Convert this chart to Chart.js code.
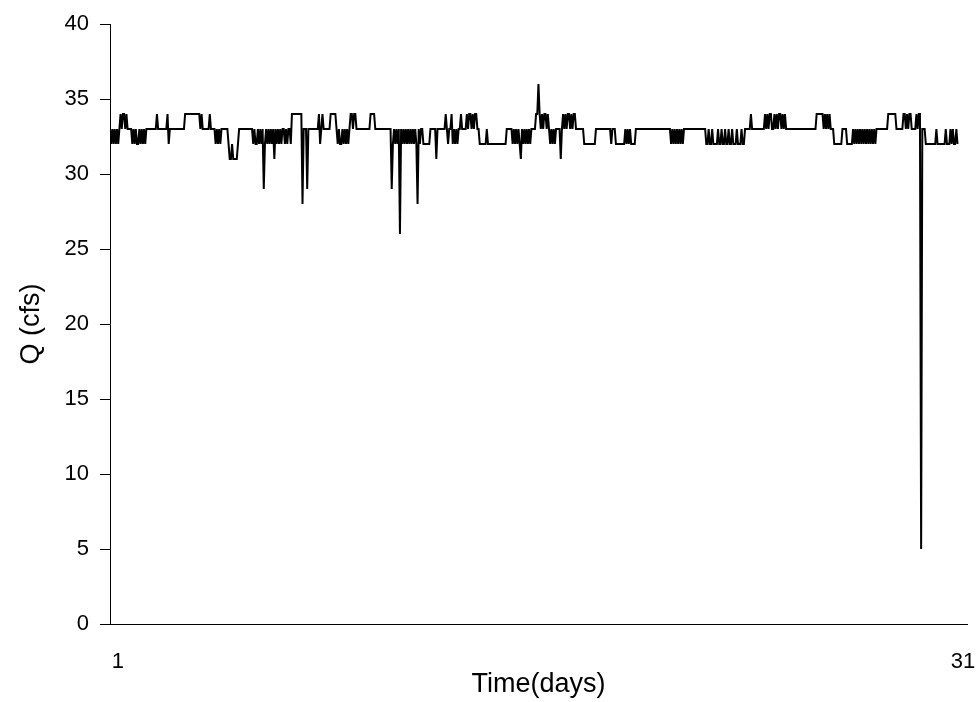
<!DOCTYPE html>
<html lang="en">
<head>
    <meta charset="UTF-8">
    <title>Q (cfs) vs Time</title>
    <script src="https://cdn.jsdelivr.net/npm/chart.js"></script>
    <style>
        body { margin: 0; background: #fff; }
    </style>
</head>
<body>
    <canvas id="flowChart" width="979" height="702"></canvas>
    <script>
        // hourly readings, day of month of first reading
        const startDay = 0.72;
        const flowCfs = [
            33,32,33,32,33,32,33,32,33, 34,33,34,34,33,34, 33,33,33,33, 32,33,32,33,32,32,33,32,33,32,33,32,33,
            33,33,33,33,33,33,33,33, 34, 33,33,33,33,33,33,33,33, 34,32, 33,33,33,33,33,33,33,33,33,33,33,33,33,
            34,34,34,34,34,34,34,34,34,34,34,34,34, 33,34,33, 33,33,33,33,33,34, 33,33,33,33, 32,33,32,33,32, 33,33,33,33,33,33,
            32,31,31,32,31,31,31,31,32, 33,33,33,33,33,33,33,33,33,33,33, 33,32,33,32,32,33,32,33,32,33,
            29,32,33,32,33,32,33,32,33,31, 33,32,33,32,33,32,33,33,32,33, 32,33,
            33,32, 34,34,34,34,34,34,34,34,34, 28, 33,33,33, 29, 33,33,33,33,33,33,33,33,33, 34,32,33,34,33,
            33,33,33,33,33, 34,34,34,34,34, 33,32,33,32,32,33,32,33,32,33,32,33, 34,34,33,34,34,
            33,33,33,33,33,33,33,33,33,33,33,33, 34,34,34,34, 33,33,33,33,33,33,33,33,33,33,33,33,33,33, 29,
            32,33,32,33,32,33, 26, 33,32,33,32,33,32,33,32,33,32,33,32,33,32, 28, 33,32,33,33,
            32,32,32,32,32,32, 33,33,33,33,33, 31, 33,33,33,33,33,33,33, 34, 33,32,33,33, 34, 32,33,32,33,32,33,33,
            34,33, 33,33,33, 34,33,34,34,33,34,33,34,34, 33,33,
            32,32,32,32,32,32, 33, 32,32,32,32,32,32,32,32,32,32,32,32,32,32,32,32, 33,33,33,33,33,
            32,33,32,33,32,33,32,31,33,32,33,32,33,32,33,32,33, 33,33,33, 34,34, 36, 34,33,34,33,34,34,33,34,33,
            32,33,32,33,32,33, 33,33,33, 31, 33,
            34,33,34,33,34,34,33,34,33,34,34, 33,33,33,33,33,33,33, 32,32,32,32,32,32,32,32,32,32,
            33,33,33,33,33,33,33,33,33,33,33,33,33, 32,33,33,33, 32,32,32,32,32,32,32,32, 33,32,33,32,33,32, 32,32,32,
            33,33,33,33,33,33,33,33,33,33,33,33,33,33,33,33,33,33,33,33,33,33,33,33,33,33,33,33,33,33,
            32,33,32,33,32,33,32,33,32,33,32,33, 33,33,33,33,33,33,33,33,33,33,33,33,33,33,33,33,33,33,
            32,32,33,32,32,33,32,32,32,32, 33,32,32,33,32,32,33,32,32,33, 32,32,33,32,32,32,33,32,32,32, 33,32,32,33,33,
            33,33,33,34,33,33, 33,33,33,33,33,33,33,33,33,
            34,33,34,33,34,34,33,33,34,33,34,33,34,34,33,34,33,34,
            33,33,33,33,33,33,33,33,33,33,33,33,33,33,33,33,33,33,33,33,33,33,33,33,33,33,
            34,34,34,34,34, 34,33,34,33,34,33,34,33, 33,33, 32,32,32,32,32,32,32, 33,33,33,33, 32,32,32,32,32,
            33,32,33,32,33,32,33,32,33,32,33,32,33,32,33,32,33,32,33,32,33, 33,33,33,33,33,33,33,33,33,
            34,34,34,34,34,34,34, 33,33,33,33,33,33, 34,34,33,34,33,34,34, 33,33,33,33, 34,33,34,34, 5,
            33,33,33, 32,32,32,32,32,32,32,32,32, 33, 32,32,32,32,32,32,32, 33, 32,32,32, 33, 32,33,32,32,33,32
        ];
        const dayTicks = [1, 31];
        const yTicks = [0, 5, 10, 15, 20, 25, 30, 35, 40];

        const points = flowCfs.map((q, i) => ({ x: startDay + i / 24, y: q }));
        const fontFamily = '"Liberation Sans", Arial, sans-serif';

        new Chart(document.getElementById('flowChart'), {
            type: 'line',
            data: {
                datasets: [{
                    data: points,
                    borderColor: '#000',
                    borderWidth: 2,
                    pointRadius: 0,
                    tension: 0,
                    fill: false
                }]
            },
            options: {
                responsive: false,
                animation: false,
                layout: { padding: { top: 24, right: 12, left: 0, bottom: 0 } },
                plugins: { legend: { display: false }, tooltip: { enabled: false } },
                scales: {
                    x: {
                        type: 'linear',
                        min: 0.72,
                        max: 31.14,
                        afterBuildTicks: s => { s.ticks = dayTicks.map(v => ({ value: v })); },
                        afterFit: s => { s.height = 78; s.paddingLeft = 0; s.paddingRight = 0; },
                        grid: { display: false, drawTicks: false },
                        border: { display: true, color: '#000', width: 1 },
                        ticks: { color: '#000', font: { family: fontFamily, size: 22 }, padding: 25, maxRotation: 0 },
                        title: { display: true, text: 'Time(days)', color: '#000', font: { family: fontFamily, size: 27 }, padding: { top: 0, bottom: 1 } }
                    },
                    y: {
                        min: 0,
                        max: 40,
                        afterBuildTicks: s => { s.ticks = yTicks.map(v => ({ value: v })); },
                        afterFit: s => { s.width = 110; s.paddingTop = 0; s.paddingBottom = 0; },
                        grid: { drawOnChartArea: false, drawTicks: true, tickLength: 10, color: '#000' },
                        border: { display: true, color: '#000', width: 1 },
                        ticks: { color: '#000', font: { family: fontFamily, size: 22 }, padding: 11 },
                        title: { display: true, text: 'Q (cfs)', color: '#000', font: { family: fontFamily, size: 27 }, padding: { top: 15, bottom: 0 } }
                    }
                }
            }
        });
    </script>
</body>
</html>
